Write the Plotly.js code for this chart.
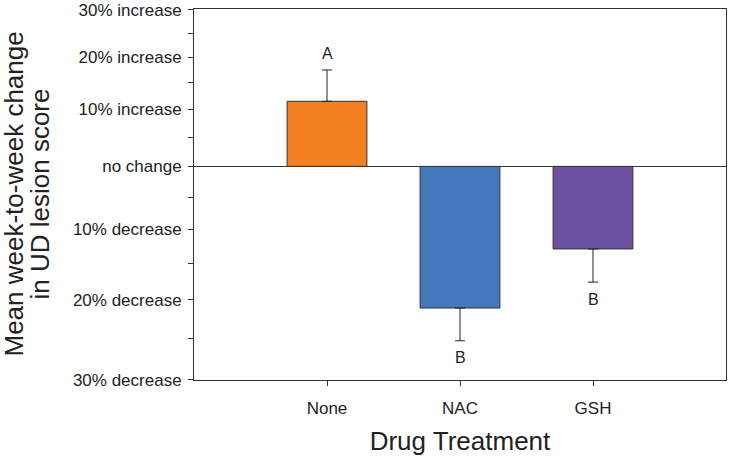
<!DOCTYPE html>
<html>
<head>
<meta charset="utf-8">
<script src="https://cdn.plot.ly/plotly-3.0.1.min.js"></script>
<style>html,body{margin:0;padding:0;background:#fff;}#chart{width:729px;height:459px;}</style>
</head>
<body>
<div id="chart"></div>
<script>
// Data: mean week-to-week change (percent) and one-sided SE
var treatments = ['None', 'NAC', 'GSH'];
var meanChangePct = [11.5, -21.1, -12.9];
var errorPct = [6.0, 4.2, 4.7];
var letters = ['A', 'B', 'B'];
var barColors = ['#F58021', '#4678BE', '#6B52A2'];

// Y axis ticks (ratio scale, log spaced)
var tickRatios = [0.7, 0.75, 0.8, 0.85, 0.9, 0.95, 1.0, 1.05, 1.1, 1.15, 1.2, 1.25, 1.3];
var tickLabels = ['30% decrease', '', '20% decrease', '', '10% decrease', '', 'no change', '', '10% increase', '', '20% increase', '', '30% increase'];

var FONT = 'Liberation Sans, Arial, Helvetica, sans-serif';
function lg(pct) { return Math.log10(1 + pct / 100); }

var yMean = meanChangePct.map(lg);
var errPlus = [], errMinus = [], errEnd = [];
for (var i = 0; i < meanChangePct.length; i++) {
  var m = meanChangePct[i];
  if (m >= 0) {
    errPlus.push(lg(m + errorPct[i]) - lg(m));
    errMinus.push(0);
    errEnd.push(lg(m + errorPct[i]));
  } else {
    errPlus.push(0);
    errMinus.push(lg(m) - lg(m - errorPct[i]));
    errEnd.push(lg(m - errorPct[i]));
  }
}

var trace = {
  type: 'bar',
  x: treatments,
  y: yMean,
  width: 0.6,
  marker: { color: barColors, line: { color: '#333333', width: 1 } },
  error_y: {
    type: 'data', symmetric: false,
    array: errPlus, arrayminus: errMinus,
    color: '#222222', thickness: 1, width: 5
  },
  hoverinfo: 'skip'
};

var annotations = [];
for (var j = 0; j < treatments.length; j++) {
  annotations.push({
    x: treatments[j], y: errEnd[j], xref: 'x', yref: 'y',
    text: letters[j], showarrow: false,
    yanchor: 'middle', yshift: meanChangePct[j] >= 0 ? 16 : -17,
    font: { family: FONT, size: 16, color: '#222222' }
  });
}
// Two-line y-axis title with tight line spacing
annotations.push({
  xref: 'paper', yref: 'paper', x: 0, y: 0.5, xanchor: 'center', yanchor: 'middle',
  xshift: -181, text: 'Mean week-to-week change', textangle: -90, showarrow: false,
  font: { family: FONT, size: 26, color: '#222222' }
});
annotations.push({
  xref: 'paper', yref: 'paper', x: 0, y: 0.5, xanchor: 'center', yanchor: 'middle',
  xshift: -155, text: 'in UD lesion score', textangle: -90, showarrow: false,
  font: { family: FONT, size: 26, color: '#222222' }
});

var layout = {
  width: 729, height: 459,
  margin: { l: 194, r: 3, t: 9, b: 79, pad: 0 },
  paper_bgcolor: '#ffffff', plot_bgcolor: '#ffffff',
  showlegend: false,
  font: { family: FONT, color: '#222222' },
  xaxis: {
    type: 'category', range: [-1, 3],
    showline: true, mirror: true, linecolor: '#333333', linewidth: 1,
    ticks: 'outside', ticklen: 5, tickwidth: 1, tickcolor: '#333333',
    showgrid: false, zeroline: false,
    tickfont: { family: FONT, size: 17, color: '#222222' },
    ticklabelstandoff: 8,
    title: { text: 'Drug Treatment', font: { family: FONT, size: 26, color: '#222222' }, standoff: 14 }
  },
  yaxis: {
    range: [Math.log10(0.7) - 0.0003, Math.log10(1.3) + 0.0004],
    tickmode: 'array', tickvals: tickRatios.map(function (r) { return Math.log10(r); }),
    ticktext: tickLabels,
    showline: true, mirror: true, linecolor: '#333333', linewidth: 1,
    ticks: 'outside', ticklen: 5, tickwidth: 1, tickcolor: '#333333',
    showgrid: false,
    zeroline: true, zerolinecolor: '#333333', zerolinewidth: 1,
    tickfont: { family: FONT, size: 17, color: '#222222' },
    ticklabelstandoff: 3
  },
  annotations: annotations
};

Plotly.newPlot('chart', [trace], layout, { staticPlot: true, displayModeBar: false });
</script>
</body>
</html>
